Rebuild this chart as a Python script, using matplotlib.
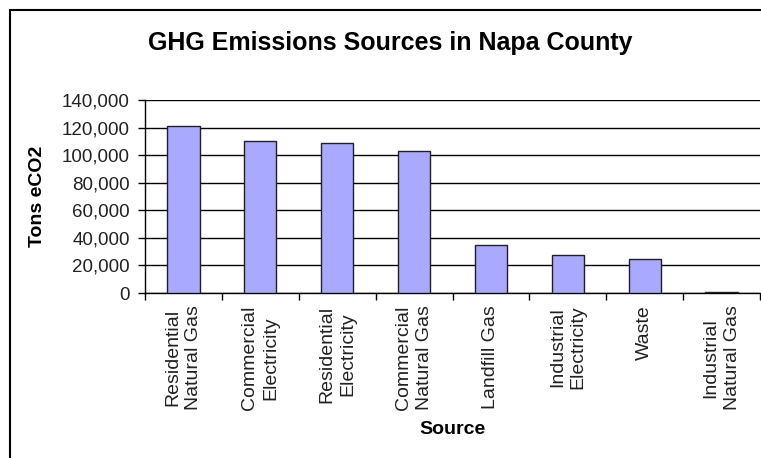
import matplotlib
matplotlib.use('Agg')
import matplotlib.pyplot as plt
from matplotlib.patches import Rectangle
from matplotlib.ticker import FuncFormatter, FixedLocator

plt.rcParams['font.family'] = ['Liberation Sans', 'DejaVu Sans']

sources = ['Residential\nNatural Gas', 'Commercial\nElectricity', 'Residential\nElectricity',
           'Commercial\nNatural Gas', 'Landfill Gas', 'Industrial\nElectricity', 'Waste',
           'Industrial\nNatural Gas']
tons = [121000, 110000, 108500, 103000, 35000, 27500, 24500, 700]
yticks = [0, 20000, 40000, 60000, 80000, 100000, 120000, 140000]

W, H = 761, 458
fig = plt.figure(figsize=(W / 100, H / 100), dpi=100)
ax = fig.add_axes([145 / W, 1 - 293 / H, 615 / W, 193 / H])

x = range(len(sources))
ax.bar(x, tons, width=0.42, color='#A9AAFF', edgecolor='#202020', linewidth=1, zorder=3)

ax.set_xlim(-0.5, len(sources) - 0.5)
ax.set_ylim(0, 140000)
ax.set_yticks(yticks)
ax.yaxis.set_major_formatter(FuncFormatter(lambda v, p: f'{int(v):,}'))
ax.grid(axis='y', color='black', linewidth=1, zorder=1)

# labels under the bars, ticks between categories
ax.set_xticks(list(x))
ax.set_xticklabels(sources, rotation=90, ha='center', va='top', multialignment='center',
                   linespacing=1.3)
ax.tick_params(axis='x', which='major', length=0, pad=9, labelsize=14, colors='#222222')
ax.xaxis.set_minor_locator(FixedLocator([i - 0.5 for i in range(len(sources) + 1)]))
ax.tick_params(axis='x', which='minor', length=5, width=1, direction='out')
ax.tick_params(axis='y', length=5, width=1, pad=6, labelsize=13.5, labelcolor='#222222')

for s in ['top', 'right']:
    ax.spines[s].set_visible(False)
ax.spines['left'].set_linewidth(1)
ax.spines['bottom'].set_linewidth(1)

fig.text(390 / W, 1 - 43 / H, 'GHG Emissions Sources in Napa County', ha='center', va='center',
         fontsize=18, fontweight='bold')
fig.text(38 / W, 1 - 196 / H, 'Tons eCO2', ha='center', va='center', rotation=90,
         fontsize=14, fontweight='bold')
fig.text(453 / W, 1 - 430 / H, 'Source', ha='center', va='center', fontsize=14, fontweight='bold')

# chart border
fig.patches.append(Rectangle((9.5 / W, -0.1), 2, 1.1 - 10.5 / H, transform=fig.transFigure,
                             fill=False, edgecolor='black', linewidth=1.5, clip_on=False))

fig.savefig('out.png', dpi=100)
